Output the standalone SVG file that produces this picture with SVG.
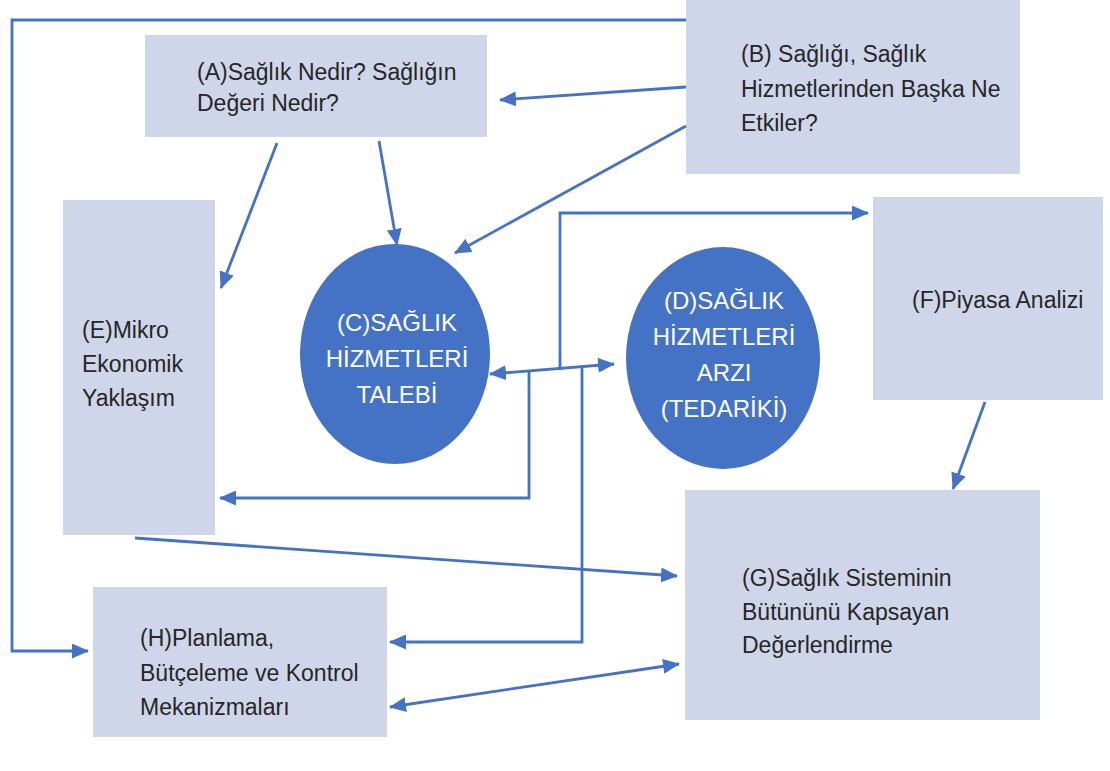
<svg xmlns="http://www.w3.org/2000/svg" width="1110" height="771" viewBox="0 0 1110 771">
  <defs>
    <marker id="arrow" viewBox="0 0 17 15" refX="16" refY="7.5" markerWidth="17" markerHeight="15" markerUnits="userSpaceOnUse" orient="auto-start-reverse">
      <path d="M0,0 L17,7.5 L0,15 z" fill="#4472C4"/>
    </marker>
    <style>
      .box { fill: #D0D6E9; }
      .oval { fill: #4472C4; }
      .txt { font-family: "Liberation Sans", Arial, sans-serif; font-size: 23px; fill: #262626; }
      .wtxt { font-family: "Liberation Sans", Arial, sans-serif; font-size: 24px; fill: #ffffff; text-anchor: middle; }
      .link { fill: none; stroke: #4472C4; stroke-width: 2.8; }
      .arr { marker-end: url(#arrow); }
      .both { marker-start: url(#arrow); marker-end: url(#arrow); }
    </style>
  </defs>
  <rect width="1110" height="771" fill="#ffffff"/>

  <g id="node-A">
    <rect class="box" x="145" y="35" width="342" height="102"/>
    <text class="txt" font-size="23.5"><tspan x="197" y="80">(A)Sağlık Nedir? Sağlığın</tspan><tspan x="197" y="111">Değeri Nedir?</tspan></text>
  </g>

  <g id="node-B">
    <rect class="box" x="686" y="0" width="334" height="174"/>
    <text class="txt"><tspan x="741" y="62">(B) Sağlığı, Sağlık</tspan><tspan x="741" y="97">Hizmetlerinden Başka Ne</tspan><tspan x="741" y="131">Etkiler?</tspan></text>
  </g>

  <g id="node-C">
    <ellipse class="oval" cx="395" cy="354" rx="95" ry="110"/>
    <text class="wtxt"><tspan x="397" y="331">(C)SAĞLIK</tspan><tspan x="397" y="367">HİZMETLERİ</tspan><tspan x="397" y="403">TALEBİ</tspan></text>
  </g>

  <g id="node-D">
    <ellipse class="oval" cx="723" cy="358" rx="97" ry="111"/>
    <text class="wtxt"><tspan x="724" y="309">(D)SAĞLIK</tspan><tspan x="724" y="345">HİZMETLERİ</tspan><tspan x="724" y="381">ARZI</tspan><tspan x="724" y="417">(TEDARİKİ)</tspan></text>
  </g>

  <g id="node-E">
    <rect class="box" x="63" y="200" width="152" height="335"/>
    <text class="txt"><tspan x="82" y="338">(E)Mikro</tspan><tspan x="82" y="372">Ekonomik</tspan><tspan x="82" y="406">Yaklaşım</tspan></text>
  </g>

  <g id="node-F">
    <rect class="box" x="873" y="197" width="230" height="203"/>
    <text class="txt"><tspan x="912" y="308">(F)Piyasa Analizi</tspan></text>
  </g>

  <g id="node-G">
    <rect class="box" x="685" y="490" width="355" height="230"/>
    <text class="txt"><tspan x="742" y="586">(G)Sağlık Sisteminin</tspan><tspan x="742" y="620">Bütününü Kapsayan</tspan><tspan x="742" y="653">Değerlendirme</tspan></text>
  </g>

  <g id="node-H">
    <rect class="box" x="93" y="587" width="294" height="150"/>
    <text class="txt" font-size="23.5"><tspan x="140" y="646">(H)Planlama,</tspan><tspan x="140" y="681">Bütçeleme ve Kontrol</tspan><tspan x="140" y="715">Mekanizmaları</tspan></text>
  </g>

  <g id="connectors">
    <path class="link arr" d="M686,87 L500,100"/>
    <path class="link arr" d="M686,20 H12 V651 H88"/>
    <path class="link arr" d="M277,143 L221,288"/>
    <path class="link arr" d="M379,141 L397,245"/>
    <path class="link arr" d="M686,126 L455,253"/>
    <path class="link both" d="M490,374 L614,364"/>
    <path class="link arr" d="M529,372 V498 H220"/>
    <path class="link arr" d="M560,370 V213 H868"/>
    <path class="link arr" d="M582,368 V642 H390"/>
    <path class="link arr" d="M135,538 L677,576"/>
    <path class="link both" d="M390,707 L679,664"/>
    <path class="link arr" d="M985,402 L953,489"/>
  </g>
</svg>
